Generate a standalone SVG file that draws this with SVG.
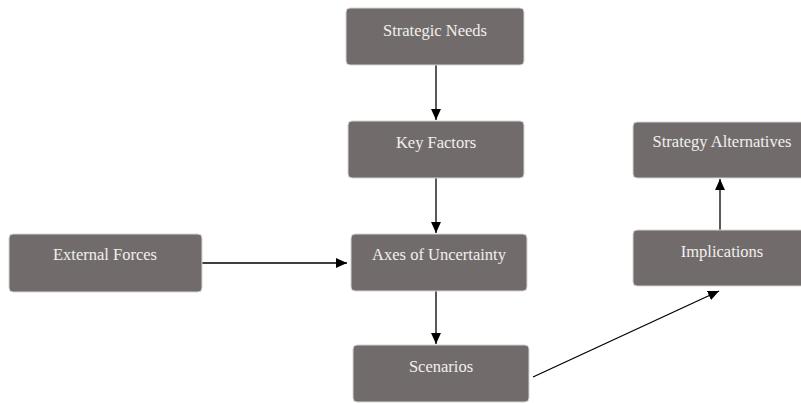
<svg xmlns="http://www.w3.org/2000/svg" width="801" height="403" viewBox="0 0 801 403">
<defs>
<style>
.box{fill:#716c6b;stroke:#d8d4d2;stroke-width:1}
.lbl{fill:#f2f0ee;font-family:"Liberation Serif",serif;font-size:16.5px;text-anchor:middle}
.edge{stroke:#000;stroke-width:1.3;fill:none;marker-end:url(#ah)}
</style>
<marker id="ah" viewBox="0 0 10 10" refX="10" refY="5" markerWidth="11" markerHeight="11" markerUnits="userSpaceOnUse" orient="auto">
<path d="M0,0.5 L10,5 L0,9.5 z" fill="#000"/>
</marker>
</defs>
<rect width="801" height="403" fill="#fff"/>
<g id="connectors">
<line class="edge" x1="436" y1="65" x2="436" y2="120"/>
<line class="edge" x1="436" y1="178" x2="436" y2="233"/>
<line class="edge" x1="202" y1="263" x2="347" y2="263"/>
<line class="edge" x1="436" y1="291" x2="436" y2="344"/>
<line class="edge" x1="533" y1="377" x2="719" y2="291"/>
<line class="edge" x1="720" y1="230" x2="720" y2="179"/>
</g>
<g id="strategic-needs"><rect class="box" x="346" y="8" width="178" height="57" rx="4"/><text class="lbl" x="435" y="36">Strategic Needs</text></g>
<g id="key-factors"><rect class="box" x="348" y="121" width="176" height="57" rx="4"/><text class="lbl" x="436" y="148">Key Factors</text></g>
<g id="axes-of-uncertainty"><rect class="box" x="351" y="234" width="176" height="57" rx="4"/><text class="lbl" x="439" y="260">Axes of Uncertainty</text></g>
<g id="external-forces"><rect class="box" x="9" y="234" width="193" height="58" rx="4"/><text class="lbl" x="105" y="260">External Forces</text></g>
<g id="scenarios"><rect class="box" x="353" y="345" width="176" height="57" rx="4"/><text class="lbl" x="441" y="372">Scenarios</text></g>
<g id="implications"><rect class="box" x="633" y="230" width="176" height="56" rx="4"/><text class="lbl" x="722" y="257">Implications</text></g>
<g id="strategy-alternatives"><rect class="box" x="633" y="122" width="176" height="56" rx="4"/><text class="lbl" x="722" y="147">Strategy Alternatives</text></g>
</svg>
